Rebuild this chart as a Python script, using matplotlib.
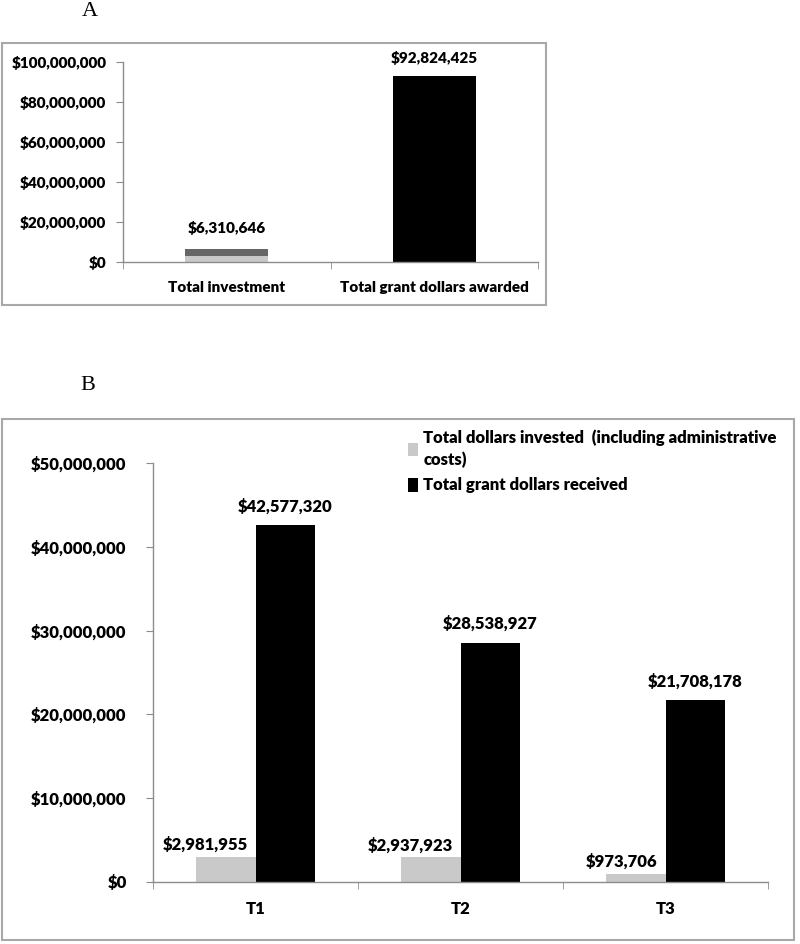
import matplotlib
matplotlib.use('Agg')
import matplotlib.pyplot as plt
from matplotlib.patches import Rectangle
from matplotlib.ticker import FuncFormatter, MultipleLocator, FixedLocator
import numpy as np

# panel A
cats_a = ['Total investment', 'Total grant dollars awarded']
inv_light = 3150000            # lower (light) part of the investment bar
inv_dark = 3160646             # upper (dark) part
inv_total = 6310646
grant_total = 92824425

# panel B
cats_b = ['T1', 'T2', 'T3']
invested = [2981955, 2937923, 973706]
received = [42577320, 28538927, 21708178]
leg_b = ['Total dollars invested  (including administrative\ncosts)', 'Total grant dollars received']

LIGHT = '#c9c9c9'; DARK = '#666666'; SPINE = '#8c8c8c'; FRAME = '#a8a8a8'; WT = 'heavy'
plt.rcParams['font.family'] = ['Lato', 'DejaVu Sans']
plt.rcParams['font.weight'] = WT
W, H = 800, 944
fig = plt.figure(figsize=(W/100, H/100), dpi=100)
def box(l, t, r, b): return [l/W, 1-b/H, (r-l)/W, (b-t)/H]
money = FuncFormatter(lambda v, p: f'${v:,.0f}')

def style(ax, fs, pad):
    for s in ('top', 'right'): ax.spines[s].set_visible(False)
    for s in ('left', 'bottom'): ax.spines[s].set_color(SPINE); ax.spines[s].set_linewidth(1)
    ax.yaxis.set_major_formatter(money)
    ax.tick_params(axis='y', direction='out', length=5, color=SPINE, pad=pad, labelsize=fs)
    ax.tick_params(axis='x', which='major', length=0, pad=14, labelsize=fs)
    ax.tick_params(axis='x', which='minor', direction='out', length=5, color=SPINE)
    for t in ax.get_yticklabels() + ax.get_xticklabels(): t.set_fontweight(WT)

# ---- A ----
fig.add_artist(Rectangle((2/W, 1-305/H), 544/W, 262/H, transform=fig.transFigure, fill=False, ec=FRAME, lw=1.5))
fig.text(90/W, 1-12/H, 'A', family='Liberation Serif', fontsize=16, weight='normal', ha='center', va='center')
axa = fig.add_axes(box(123, 62, 538, 262))
xa = np.arange(len(cats_a))
axa.bar(xa[0], inv_light, 0.4, color=LIGHT)
axa.bar(xa[0], inv_dark, 0.4, bottom=inv_light, color=DARK)
axa.bar(xa[1], grant_total, 0.4, color='black')
axa.set_xlim(-0.5, 1.5); axa.set_ylim(0, 100000000)
axa.yaxis.set_major_locator(MultipleLocator(20000000))
axa.set_xticks(xa); axa.set_xticklabels(cats_a)
axa.xaxis.set_minor_locator(FixedLocator([-0.5, 0.5, 1.5]))
style(axa, 11, 7)
for x, v, dy in [(xa[0], inv_total, 21), (xa[1], grant_total, 18)]:
    axa.annotate(f'${v:,.0f}', (x, v), xytext=(0, dy), textcoords='offset pixels', ha='center', va='center', fontsize=11, weight=WT)

# ---- B ----
fig.add_artist(Rectangle((2/W, 1-940/H), 792/W, 521/H, transform=fig.transFigure, fill=False, ec=FRAME, lw=1.5))
fig.text(88/W, 1-385/H, 'B', family='Liberation Serif', fontsize=16, weight='normal', ha='center', va='center')
axb = fig.add_axes(box(153, 463, 768, 882))
xb = np.arange(len(cats_b)); bw = 0.29
axb.bar(xb-bw/2, invested, bw, color=LIGHT, label=leg_b[0])
axb.bar(xb+bw/2, received, bw, color='black', label=leg_b[1])
axb.set_xlim(-0.5, 2.5); axb.set_ylim(0, 50000000)
axb.yaxis.set_major_locator(MultipleLocator(10000000))
axb.set_xticks(xb); axb.set_xticklabels(cats_b)
axb.xaxis.set_minor_locator(FixedLocator([-0.5, 0.5, 1.5, 2.5]))
style(axb, 12, 14)
for x, v in zip(xb, invested):
    axb.annotate(f'${v:,.0f}', (x, v), xytext=(-8, 12), textcoords='offset pixels', ha='right', va='center', fontsize=12, weight=WT)
for x, v in zip(xb+bw/2, received):
    axb.annotate(f'${v:,.0f}', (x, v), xytext=(0, 19), textcoords='offset pixels', ha='center', va='center', fontsize=12, weight=WT)
leg = axb.legend(loc='upper left', bbox_to_anchor=(400/W, 1-421/H), bbox_transform=fig.transFigure, frameon=False,
                 prop={'size': 12, 'weight': WT}, handlelength=0.6, handleheight=0.9, handletextpad=0.3, labelspacing=0.55, borderpad=0)
leg.get_texts()[0].set_linespacing(1.45)

fig.savefig('out.png', dpi=100)
